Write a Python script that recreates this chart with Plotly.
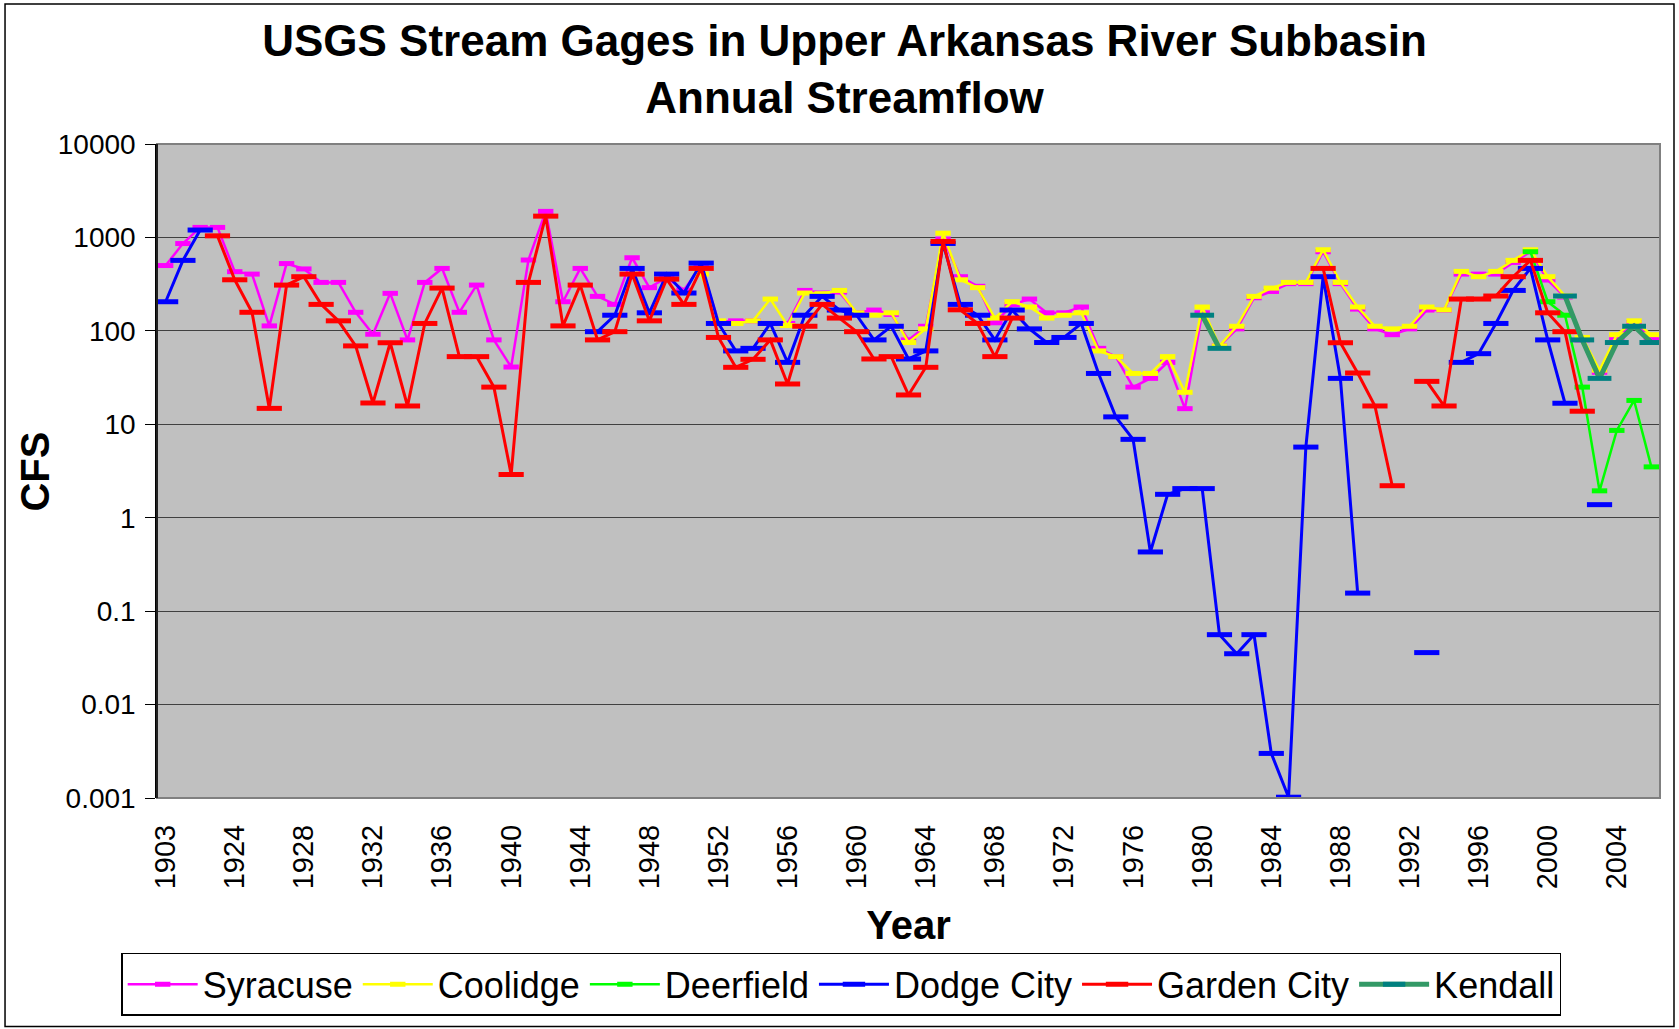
import plotly.graph_objects as go

N = None

YEARS = [1903] + list(range(1921, 2007))
CATEGORIES = [str(y) for y in YEARS]
TICK_LABELS = [c for i, c in enumerate(CATEGORIES) if i % 4 == 0]

SYRACUSE = [500, 860, 1280, 1280, 430, 405, 113, 525, 460, 330,
            330, 158, 92, 252, 80, 330, 466, 158, 309, 80,
            41, 573, 1900, 205, 466, 234, 192, 606, 290, 370,
            273, 500, 125, 128, 128, 120, 120, 271, 254, 260,
            156, 167, 150, 80, 112, 960, 380, 300, 122, 190,
            219, 156, 156, 180, 65, 53, 25, 31, 46, 14.7,
            156, 69, 105, 226, 264, 320, 320, 703, 320, 171,
            105, 91, 105, 167, 167, 405, 405, 405, 540, 703,
            350, 230, 80, 36, 85, 123, 83]

COOLIDGE = [N] * 31 + [405, 128, 120, 128, 219, 114, 254, 250, 271,
            156, 147, 156, 75, 105, 1110, 352, 290, 137, 205,
            180, 137, 147, 156, 61, 53, 35, 35, 53, 22,
            180, 69, 112, 234, 287, 330, 330, 738, 330, 180,
            112, 105, 112, 180, 168, 433, 380, 433, 568, 738,
            380, 236, 85, 38, 91, 128, 91]

DEERFIELD = [N] * 79 + [703, 205, 147, 25, 1.94, 8.6, 18, 3.5]

DODGE_CITY = [205, 568, 1200] + [N] * 22 + [98, 147, 466, 156, 405,
              254, 531, 120, 61, 65, 120, 46, 147, 234, 167,
              147, 80, 112, 50, 61, 862, 192, 147, 80, 167,
              105, 75, 85, 120, 35, 12, 6.9, 0.43, 1.78, 2.05,
              2.05, 0.056, 0.035, 0.056, 0.003, 0.00102, 5.7, 380, 31, 0.156,
              N, N, N, 0.036, N, 46, 57, 120, 271, 466,
              80, 16.8, N, 1.38, N, N, N]

GARDEN_CITY = [N, N, N, 1040, 352, 158, 14.8, 309, 380, 192,
               128, 69, 16.9, 74.6, 15.7, 120, 287, 53, 53, 25,
               2.9, 330, 1690, 113, 309, 80, 98, 405, 128, 358,
               192, 466, 85, 40.7, 49.6, 80, 27, 112, 192, 137,
               98, 50, 53, 20.6, 40.7, 906, 168, 120, 53, 137] + [N] * 17 + [
               466, 74.6, 35.4, 15.7, 2.2, N, 28.8, 15.7, 219, 219,
               236, 380, 568, 156, 98, 13.8, N, N, N, N]

KENDALL = [N] * 60 + [147, 65] + [N] * 19 + [236, 80, 31, 75, 112, 75]

SERIES = [
    # name, values, line color, marker color, line width, marker size
    ("Syracuse", SYRACUSE, "#FF00FF", "#FF00FF", 2.5, 11),
    ("Coolidge", COOLIDGE, "#FFFF00", "#FFFF00", 2.5, 11),
    ("Deerfield", DEERFIELD, "#00FF00", "#00FF00", 2.5, 11),
    ("Dodge City", DODGE_CITY, "#0000FF", "#0000FF", 3, 18),
    ("Garden City", GARDEN_CITY, "#FF0000", "#FF0000", 3, 18),
    ("Kendall", KENDALL, "#339966", "#008080", 5, 17),
]

FONT = "Liberation Sans, Arial, sans-serif"

fig = go.Figure()
for name, vals, lc, mc, lw, ms in SERIES:
    fig.add_trace(go.Scatter(
        x=CATEGORIES, y=vals, name=name, mode="lines+markers",
        connectgaps=False,
        line=dict(color=lc, width=lw),
        marker=dict(symbol="line-ew", size=ms, color=mc,
                    line=dict(width=5, color=mc)),
    ))

fig.update_layout(
    width=1679, height=1029,
    margin=dict(l=157, r=19, t=144, b=231),
    paper_bgcolor="white",
    plot_bgcolor="#C0C0C0",
    font=dict(family=FONT, color="black"),
    title=dict(
        text="<b>USGS Stream Gages in Upper Arkansas River Subbasin<br>Annual Streamflow</b>",
        font=dict(size=44, family=FONT, color="black"),
        x=0.503, xanchor="center", xref="container",
        y=0.946, yanchor="top", yref="container",
    ),
    xaxis=dict(
        type="category",
        categoryorder="array", categoryarray=CATEGORIES,
        range=[-0.5, len(CATEGORIES) - 0.5],
        tickmode="array", tickvals=TICK_LABELS, ticktext=TICK_LABELS,
        tickangle=-90,
        tickfont=dict(size=29, family=FONT),
        ticks="", showgrid=False, showline=False, zeroline=False,
        ticklabelstandoff=20,
        title=dict(text="<b>Year</b>", font=dict(size=40, family=FONT), standoff=22),
    ),
    xaxis2=dict(
        overlaying="x", anchor="free", position=3 / 7,
        type="linear", range=[-0.5, len(CATEGORIES) - 0.5],
        tick0=-0.5, dtick=1, ticks="outside", ticklen=8, tickcolor="#202020",
        showticklabels=False, showgrid=False, zeroline=False,
        showline=True, linecolor="black", linewidth=1.5,
    ),
    yaxis=dict(
        type="log", range=[-3, 4],
        tickmode="array",
        tickvals=[0.001, 0.01, 0.1, 1, 10, 100, 1000, 10000],
        ticktext=["0.001", "0.01", "0.1", "1", "10", "100", "1000", "10000"],
        tickfont=dict(size=28, family=FONT),
        ticks="outside", ticklen=10, tickcolor="black",
        ticklabelstandoff=4,
        showgrid=True, gridcolor="#404040", gridwidth=1,
        showline=True, linecolor="black", linewidth=1.5,
        zeroline=False,
    ),
    legend=dict(
        orientation="h",
        xref="container", x=0.501, xanchor="center",
        yref="container", y=0.074, yanchor="top",
        font=dict(size=36, family=FONT),
        bordercolor="black", borderwidth=1.5,
        bgcolor="white",
        itemwidth=70,
    ),
    annotations=[
        dict(text="<b>CFS</b>", xref="paper", yref="paper",
             x=(35 - 156.7) / 1503.3, y=(797.6 - 471) / 653.6,
             xanchor="center", yanchor="middle", textangle=-90,
             showarrow=False, font=dict(size=40, family=FONT, color="black")),
    ],
    shapes=[
        dict(type="rect", xref="paper", yref="paper", x0=0, y0=0, x1=1, y1=1,
             line=dict(color="#808080", width=2), layer="above"),
        dict(type="line", xref="paper", yref="paper", x0=0, y0=0, x1=0, y1=1,
             line=dict(color="black", width=1.5), layer="above"),
        dict(type="rect", xref="paper", yref="paper",
             x0=-152 / 1503.3, x1=(1674 - 156.7) / 1503.3,
             y0=-(1026 - 797.6) / 653.6, y1=(797.6 - 4) / 653.6,
             line=dict(color="black", width=1.5), layer="below"),
    ],
    showlegend=True,
)

fig.write_html("out.html", include_plotlyjs=True,
               config={"displayModeBar": False},
               post_script="document.body.style.margin='0';document.body.style.overflow='hidden';")
